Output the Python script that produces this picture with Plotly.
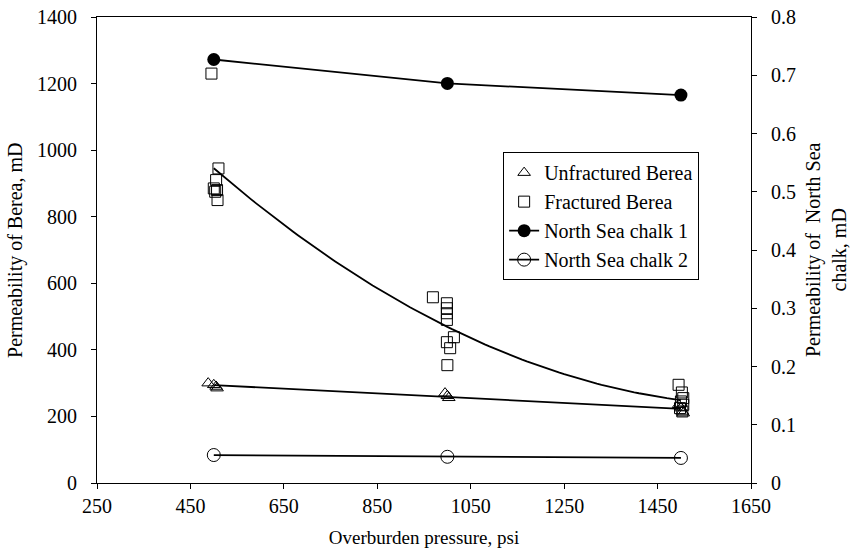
import numpy as np
import plotly.graph_objects as go

# ---- data ----
unfrac_p = [488, 500, 505, 507, 995, 1000, 1003, 1495, 1500, 1503, 1505]
unfrac_k = [300, 295, 290, 285, 270, 262, 256, 235, 225, 215, 210]

frac_p = [495, 510, 505, 500, 507, 503, 508,
          969, 999, 999, 999, 999, 999, 1014, 1006, 1000,
          1495, 1502, 1505, 1500, 1505, 1498, 1503]
frac_k = [1230, 945, 910, 885, 880, 875, 850,
          558, 540, 525, 510, 490, 423, 438, 405, 354,
          295, 272, 255, 245, 235, 225, 215]

chalk_p = [500, 1000, 1500]
chalk1_k = [0.727, 0.686, 0.666]
chalk2_k = [0.048, 0.045, 0.043]

x_ticks = [250, 450, 650, 850, 1050, 1250, 1450, 1650]

# trend lines (least-squares fits of the plotted data)
tx = np.linspace(500, 1500, 101)
c_un = np.polyfit(unfrac_p, unfrac_k, 1)
c_fr = np.polyfit(frac_p, frac_k, 2)

FONT = "Liberation Serif"
SP = "\u2002"
fig = go.Figure()

fig.add_trace(go.Scatter(x=tx, y=np.polyval(c_un, tx), mode="lines",
                         line=dict(color="black", width=1.8), showlegend=False, hoverinfo="skip"))
fig.add_trace(go.Scatter(x=tx, y=np.polyval(c_fr, tx), mode="lines",
                         line=dict(color="black", width=1.8), showlegend=False, hoverinfo="skip"))

fig.add_trace(go.Scatter(x=unfrac_p, y=unfrac_k, mode="markers", name="Unfractured Berea",
                         legendgroup="a",
                         marker=dict(symbol="triangle-up-open", size=11, color="black",
                                     line=dict(width=1))))
fig.add_trace(go.Scatter(x=frac_p, y=frac_k, mode="markers", name="Fractured Berea",
                         legendgroup="b",
                         marker=dict(symbol="square-open", size=11, color="black",
                                     line=dict(width=1))))
fig.add_trace(go.Scatter(x=chalk_p, y=chalk1_k, mode="lines+markers", name="North Sea chalk 1",
                         legendgroup="c", yaxis="y2",
                         line=dict(color="black", width=1.8),
                         marker=dict(symbol="circle", size=13, color="black")))
fig.add_trace(go.Scatter(x=chalk_p, y=chalk2_k, mode="lines+markers", name="North Sea chalk 2",
                         legendgroup="d", yaxis="y2",
                         line=dict(color="black", width=1.8),
                         marker=dict(symbol="circle-open", size=13, color="black",
                                     line=dict(width=1))))

axis_common = dict(showline=True, linecolor="black", linewidth=1, ticks="outside",
                   ticklen=5, tickcolor="black", showgrid=False, zeroline=False,
                   automargin=False, ticklabeloverflow="allow",
                   tickfont=dict(family=FONT, size=20, color="black"))

fig.update_layout(
    width=858, height=557,
    margin=dict(l=97, r=107, t=17, b=74),
    plot_bgcolor="white", paper_bgcolor="white",
    font=dict(family=FONT, size=20, color="black"),
    xaxis=dict(range=[250, 1650], tickvals=x_ticks, mirror=True,
               title=dict(text="Overburden pressure, psi", font=dict(family=FONT, size=19), standoff=14),
               **axis_common),
    yaxis=dict(range=[0, 1400], dtick=200, ticksuffix=SP, **axis_common),
    yaxis2=dict(range=[0, 0.8], dtick=0.1, overlaying="y", side="right", tickformat="~g",
                tickprefix=SP, **axis_common),
    legend=dict(x=0.621, y=0.71, xanchor="left", yanchor="top",
                bgcolor="white", bordercolor="black", borderwidth=1,
                font=dict(family=FONT, size=20, color="black"),
                tracegroupgap=0, traceorder="grouped", itemwidth=30),
    showlegend=True,
    annotations=[
        dict(text="Permeability of Berea, mD", xref="paper", yref="paper",
             x=-0.1254, y=0.5, textangle=-90, showarrow=False,
             xanchor="center", yanchor="middle", font=dict(family=FONT, size=20)),
        dict(text="Permeability of  North Sea<br>chalk, mD", xref="paper", yref="paper",
             x=1.1147, y=0.5, textangle=-90, showarrow=False,
             xanchor="center", yanchor="middle", font=dict(family=FONT, size=20)),
    ],
)

fig.write_html("out.html", config={"displayModeBar": False},
               post_script="document.body.style.margin='0';")
